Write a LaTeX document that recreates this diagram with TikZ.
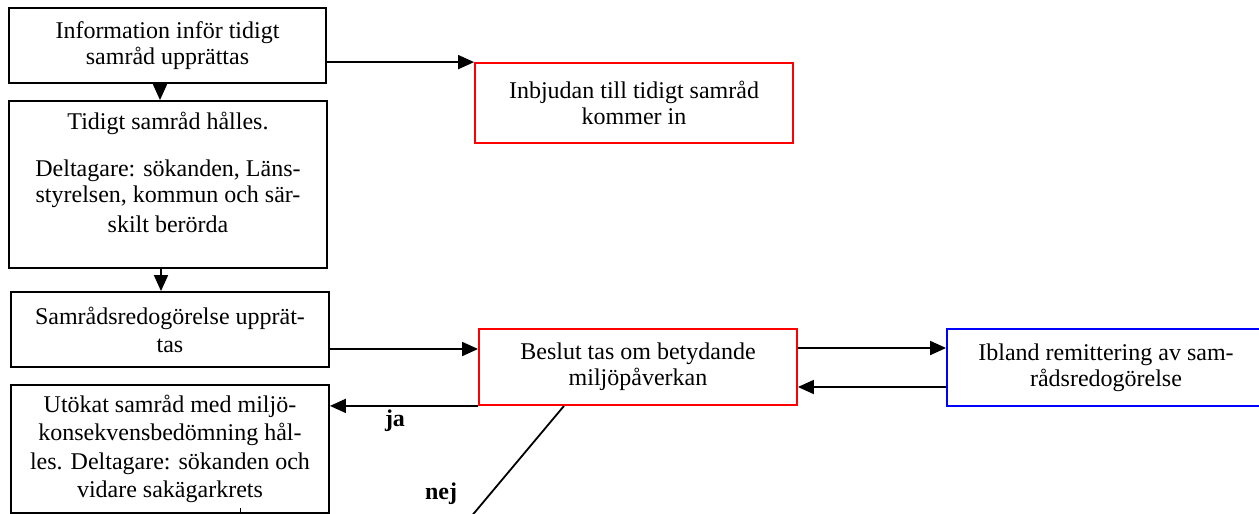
\documentclass[tikz,border=0pt]{standalone}
\usepackage{fontspec}
\setmainfont{Liberation Serif}
\usetikzlibrary{arrows.meta,calc}
\begin{document}
\begin{tikzpicture}[x=1pt,y=-1pt,
  box/.style={draw, line width=1.8pt, inner sep=0pt, align=center,
    font=\fontsize{24}{26}\selectfont},
  redbox/.style={box, draw={rgb,255:red,255;green,0;blue,0}},
  bluebox/.style={box, draw={rgb,255:red,0;green,0;blue,255}},
  arr/.style={line width=1.8pt, -{Triangle[length=16pt,width=14pt]}},
  plain/.style={line width=1.8pt},
  lbl/.style={font=\fontsize{24}{26}\selectfont\bfseries, inner sep=0pt},
  txt/.style={inner sep=0pt, align=center, font=\fontsize{24}{26}\selectfont}]
\useasboundingbox (0,0) rectangle (1259,514);

\node[box, minimum width=317pt, minimum height=75pt] (b1) at (167.5,45.5)
  {Information inför tidigt\\samråd upprättas};
\node[box, minimum width=318pt, minimum height=167pt] (b2) at (168,184.5) {};
\node[txt, anchor=north] (b2t) at ($(b2.north)+(0,12)$)
  {Tidigt samråd hålles.\\[21pt]Deltagare: sökanden, Läns-\\styrelsen, kommun och sär-\\[4pt]skilt berörda};
\node[box, minimum width=318pt, minimum height=75pt,
  font=\fontsize{24}{28}\selectfont] (b3) at (170,329.5)
  {Samrådsredogörelse upprät-\\tas};
\node[box, minimum width=318pt, minimum height=128pt,
  font=\fontsize{24}{28.5}\selectfont] (b4) at (170,449)
  {Utökat samråd med miljö-\\konsekvensbedömning hål-\\les. Deltagare: sökanden och\\vidare sakägarkrets};
\node[redbox, minimum width=318pt, minimum height=80pt] (r1) at (634,103)
  {Inbjudan till tidigt samråd\\kommer in};
\node[redbox, minimum width=318pt, minimum height=76pt] (be) at (638,367)
  {Beslut tas om betydande\\miljöpåverkan};
\node[bluebox, minimum width=318pt, minimum height=77pt] (ib) at (1106,367.5)
  {Ibland remittering av sam-\\rådsredogörelse};

\draw[arr] ($(b1.south)+(-7.5,0)$) -- ($(b2.north)+(-8,0)$);
\draw[arr] ($(b2.south)+(-7,0)$) -- ($(b3.north)+(-9,0)$);
\draw[arr] (b1.east |- r1.north west) -- (r1.north west);
\draw[arr] ($(b3.east)+(0,19.5)$) -- ($(be.west)+(0,-18)$);
\draw[arr] ($(be.east)+(0,-19)$) -- ($(ib.west)+(0,-19.5)$);
\draw[arr] ($(ib.west)+(0,19.5)$) -- ($(be.east)+(0,20)$);
\draw[arr] (be.south west) -- (be.south west -| b4.east);
\node[lbl] (ja) at (395,421) {ja};

\coordinate (nejend) at (470,518);
\draw[plain] ($(be.south)+(-74,0)$) -- (nejend);
\node[lbl] (nej) at (441,494) {nej};

\coordinate (tick) at (240,508);
\draw[line width=1pt] (tick) -- (tick |- b4.south);
\end{tikzpicture}
\end{document}
